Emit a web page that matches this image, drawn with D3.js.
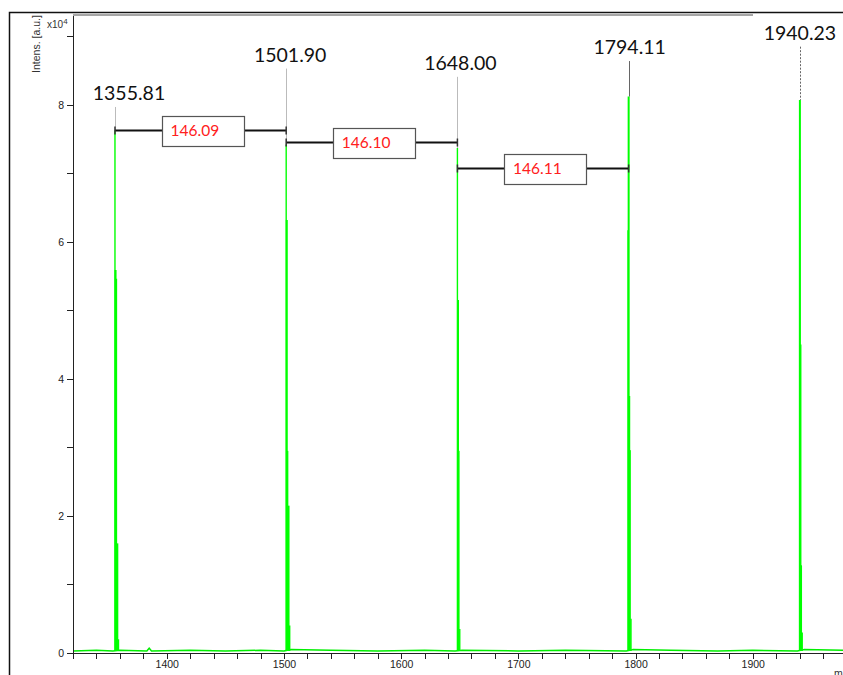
<!DOCTYPE html>
<html>
<head>
<meta charset="utf-8">
<script src="https://cdn.jsdelivr.net/npm/d3@7"></script>
<style>
  body { margin: 0; background: #fff; }
  svg { display: block; }
  .axis text { font-family: "Liberation Sans", Arial, sans-serif; font-size: 10.5px; fill: #222; }
  .axis path, .axis line { stroke: #222; stroke-width: 1; shape-rendering: crispEdges; }
</style>
</head>
<body>
<div id="chart"></div>
<script>
// ── data (intensity in units of 10^4) ─────────────────────────────────────
const peakLabels = ["1355.81", "1501.90", "1648.00", "1794.11", "1940.23"];
const peakMz     = [1355.81, 1501.90, 1648.00, 1794.11, 1940.23];
const peakTop    = [7.63, 7.42, 7.37, 8.12, 8.07];
const labelLevel = [8.07, 8.63, 8.51, 8.74, 8.95];   // where the annotation text sits

// isotope clusters, one stick per entry
const clusterMz = [
  [1355.81, 1356.31, 1356.81, 1357.81, 1358.81],
  [1501.90, 1502.40, 1502.90, 1503.90, 1504.90],
  [1648.00, 1648.50, 1649.00, 1650.00],
  [1793.60, 1794.11, 1794.60, 1795.10, 1796.10],
  [1940.00, 1940.23, 1940.70, 1941.20, 1942.20]
];
const clusterInt = [
  [7.63, 5.59, 5.46, 1.60, 0.20],
  [7.42, 6.32, 2.95, 2.15, 0.40],
  [7.37, 5.15, 2.95, 0.35],
  [6.17, 8.12, 3.75, 2.96, 0.50],
  [7.20, 8.07, 4.50, 1.28, 0.30]
];

// baseline trace
const baseMz  = [1320, 1340, 1354, 1360, 1383, 1385, 1387, 1420, 1450, 1480, 1500, 1506, 1540, 1580, 1620, 1646, 1652, 1700, 1740, 1792, 1798, 1830, 1870, 1900, 1938, 1944, 1977];
const baseInt = [0.03, 0.04, 0.03, 0.04, 0.03, 0.07, 0.03, 0.04, 0.03, 0.04, 0.03, 0.05, 0.04, 0.03, 0.04, 0.03, 0.04, 0.03, 0.04, 0.03, 0.05, 0.04, 0.03, 0.04, 0.03, 0.05, 0.04];

// mass differences between neighbouring peaks
const diffText  = ["146.09", "146.10", "146.11"];
const diffFrom  = [0, 1, 2];
const diffLevel = [7.63, 7.45, 7.08];

// ── chart ─────────────────────────────────────────────────────────────────
const W = 843, H = 675;
const M = { left: 73, top: 15, right: 0, bottom: 22 };

const svg = d3.select('#chart').append('svg')
  .attr('width', W).attr('height', H);

const x = d3.scaleLinear().domain([1320, 1977]).range([M.left, W]);
const y = d3.scaleLinear().domain([0, 9.31]).range([H - M.bottom, M.top]);

// outer frame
svg.append('path')
  .attr('d', `M9.5,${H} V12.5 H${W}`)
  .attr('fill', 'none').attr('stroke', '#111').attr('stroke-width', 1.5);

// plot top border
svg.append('line')
  .attr('x1', M.left).attr('x2', 753).attr('y1', 15).attr('y2', 15)
  .attr('stroke', '#888').attr('stroke-width', 1.5);

svg.append('defs').append('clipPath').attr('id', 'plot')
  .append('rect').attr('x', M.left).attr('y', M.top)
  .attr('width', W - M.left).attr('height', H - M.bottom - M.top);

const g = svg.append('g').attr('clip-path', 'url(#plot)');

// baseline
g.append('path')
  .datum(baseMz.map((m, i) => [m, baseInt[i]]))
  .attr('fill', 'none').attr('stroke', '#00ee00').attr('stroke-width', 1.5)
  .attr('d', d3.line().x(d => x(d[0])).y(d => y(d[1])));

// sticks
clusterMz.forEach((mzs, c) => {
  g.selectAll(null)
    .data(mzs.map((m, i) => [m, clusterInt[c][i]]))
    .enter().append('line')
    .attr('x1', d => x(d[0])).attr('x2', d => x(d[0]))
    .attr('y1', y(0.03)).attr('y2', d => y(d[1]))
    .attr('stroke', '#00ff00')
    .attr('stroke-width', (d, i) => i === 0 || d[1] < 1 ? 1.4 : 2);
});

// axes
const xTicks = d3.range(1320, 1977, 20);
svg.append('g').attr('class', 'axis')
  .attr('transform', `translate(0,${H - M.bottom})`)
  .call(d3.axisBottom(x).tickValues(xTicks).tickSize(6).tickSizeOuter(0)
    .tickFormat(d => d % 100 === 0 ? d : ''))
  .call(a => a.selectAll('text').attr('dy', '0.55em'));

svg.append('g').attr('class', 'axis')
  .attr('transform', `translate(${M.left},0)`)
  .call(d3.axisLeft(y).tickValues(d3.range(0, 10)).tickSize(6).tickSizeOuter(0)
    .tickFormat(d => d % 2 === 0 ? d : ''));

// axis titles
svg.append('text')
  .attr('transform', 'translate(40,44) rotate(-90)')
  .attr('text-anchor', 'middle')
  .style('font-family', '"Liberation Sans", Arial, sans-serif')
  .style('font-size', '10.5px').style('fill', '#333')
  .text('Intens. [a.u.]');

const exp = svg.append('text')
  .attr('x', 47).attr('y', 28)
  .style('font-family', '"Liberation Sans", Arial, sans-serif')
  .style('font-size', '10px').style('fill', '#333');
exp.append('tspan').text('x10');
exp.append('tspan').attr('dy', -4).style('font-size', '8px').text('4');

svg.append('text')
  .attr('x', 834).attr('y', 677)
  .style('font-family', '"Liberation Sans", Arial, sans-serif')
  .style('font-size', '10.5px').style('fill', '#333')
  .text('m/z');

// peak annotations
const labelShift = [14, 4, 3, 1, 0];
peakMz.forEach((m, i) => {
  const px = Math.round(x(m)) + 0.5;
  svg.append('line')
    .attr('x1', px).attr('x2', px)
    .attr('y1', y(labelLevel[i]) + 7).attr('y2', y(peakTop[i]))
    .attr('stroke', i >= 3 ? '#666' : '#bbb').attr('stroke-width', 1)
    .attr('stroke-dasharray', i === 4 ? '2,1.5' : null);
  svg.append('text')
    .attr('x', x(m) + labelShift[i]).attr('y', y(labelLevel[i]))
    .attr('text-anchor', 'middle')
    .style('font-family', 'Lato, "Open Sans", sans-serif')
    .style('font-size', '19.5px').style('fill', '#111')
    .text(peakLabels[i]);
});

// difference brackets
diffText.forEach((t, i) => {
  const x1 = x(peakMz[diffFrom[i]]), x2 = x(peakMz[diffFrom[i] + 1]);
  const yy = Math.round(y(diffLevel[i])) + 0.5;
  const bg = svg.append('g');
  bg.append('line').attr('x1', x1).attr('x2', x2).attr('y1', yy).attr('y2', yy)
    .attr('stroke', '#111').attr('stroke-width', 2);
  [x1, x2].forEach(xe => bg.append('line')
    .attr('x1', xe).attr('x2', xe).attr('y1', yy - 4).attr('y2', yy + 4)
    .attr('stroke', '#333').attr('stroke-width', 1.5));
  const cx = (x1 + x2) / 2 + 2;
  bg.append('rect')
    .attr('x', Math.round(cx - 41) + 0.5).attr('y', Math.round(yy - 15) + 0.5)
    .attr('width', 82).attr('height', 30)
    .attr('fill', '#fff').attr('stroke', '#555').attr('stroke-width', 1.2);
  bg.append('text')
    .attr('x', cx - 32).attr('y', yy + 5.5)
    .style('font-family', 'Lato, "Open Sans", sans-serif')
    .style('font-size', '15.5px').style('fill', '#ff2020')
    .text(t);
});
</script>
</body>
</html>
